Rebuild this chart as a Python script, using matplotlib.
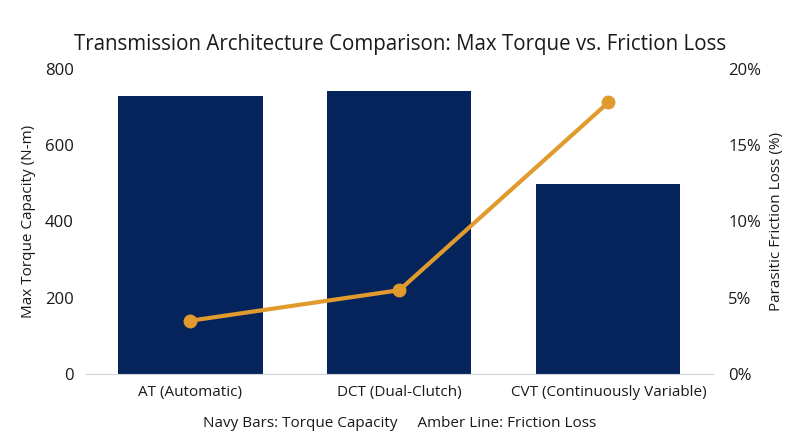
import numpy as np
import matplotlib.pyplot as plt
from matplotlib.ticker import FuncFormatter

# Data
categories = ['AT (Automatic)', 'DCT (Dual-Clutch)', 'CVT (Continuously Variable)']
torque = [730, 743, 498]
friction = [3.5, 5.5, 17.8]

navy = '#06245C'
amber = '#E09A2E'
text_col = '#1a1a1a'

plt.rcParams['font.family'] = ['Open Sans', 'DejaVu Sans']

fig = plt.figure(figsize=(8, 4.47), dpi=100)
ax = fig.add_axes([0.1075, 0.163, 0.7835, 0.683])
x = np.arange(len(categories))

ax.bar(x, torque, width=0.69, color=navy, zorder=2)
ax.set_xlim(-0.5, 2.5)
ax.set_ylim(0, 800)
ax.set_yticks([0, 200, 400, 600, 800])
ax.set_xticks(x)
ax.set_xticklabels(categories, fontsize=11, color=text_col)
ax.tick_params(axis='y', labelsize=12, colors=text_col, length=0, pad=9)
ax.tick_params(axis='x', length=0, pad=8)
ax.set_ylabel('Max Torque Capacity (N-m)', fontsize=11, color=text_col, labelpad=6)
for s in ['top', 'right', 'left']:
    ax.spines[s].set_visible(False)
ax.spines['bottom'].set_color('#d0d5dc')

ax2 = ax.twinx()
ax2.plot(x, friction, color=amber, linewidth=3, marker='o', markersize=9, zorder=3)
ax2.set_ylim(0, 20)
ax2.set_yticks([0, 5, 10, 15, 20])
ax2.yaxis.set_major_formatter(FuncFormatter(lambda v, p: f'{int(v)}%'))
ax2.tick_params(axis='y', labelsize=12, colors=text_col, length=0, pad=11)
ax2.set_ylabel('Parasitic Friction Loss (%)', fontsize=11, color=text_col, labelpad=6)
for s in ax2.spines.values():
    s.set_visible(False)

fig.suptitle('Transmission Architecture Comparison: Max Torque vs. Friction Loss',
             fontsize=14.8, color=text_col, y=0.925)
fig.text(0.5, 0.052, 'Navy Bars: Torque Capacity     Amber Line: Friction Loss',
         ha='center', va='center', fontsize=11, color=text_col)

fig.savefig('out.png', dpi=100)
